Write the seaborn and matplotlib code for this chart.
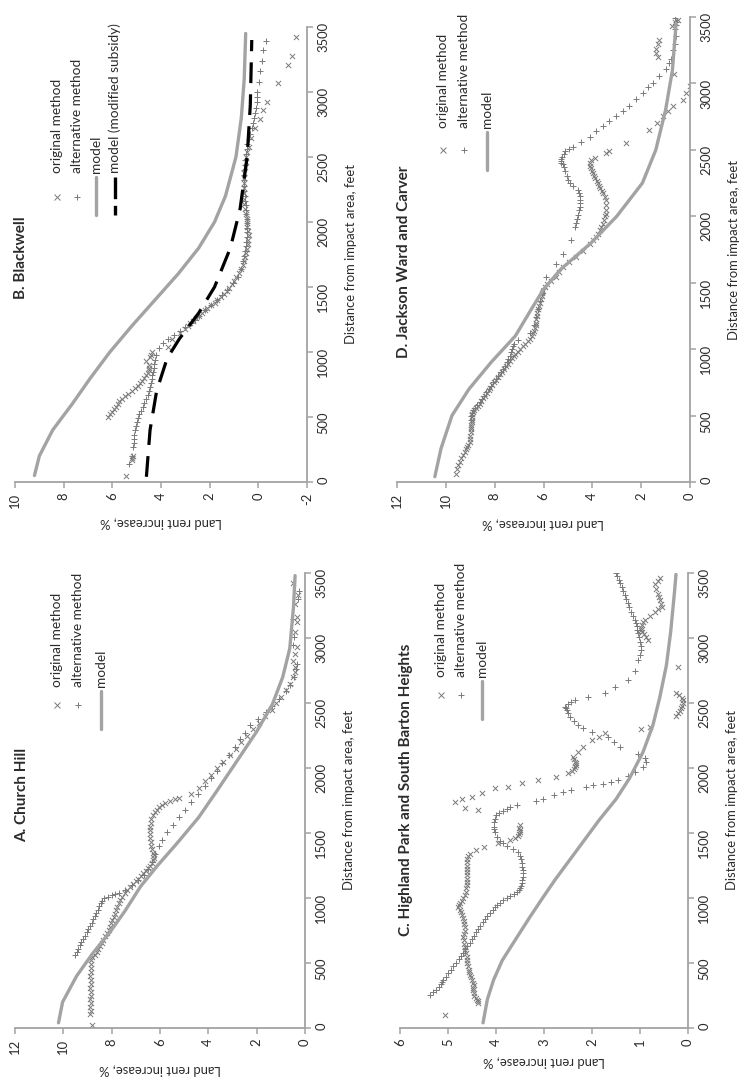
import numpy as np
import matplotlib
matplotlib.use("Agg")
import matplotlib.pyplot as plt
import seaborn as sns

# the figure is a landscape page turned a quarter turn: distance runs up, rent runs right-to-left
sns.set_style("white")
plt.rcParams['font.family'] = ['Lato', 'DejaVu Sans']
plt.rcParams['axes.unicode_minus'] = False

# every series is (distance in feet, land rent increase in %)

# ---------------- A. Church Hill ----------------
a_model = [(40, 10.2), (200, 10.03), (400, 9.45), (575, 8.78), (730, 8.1), (900, 7.45), (1090, 6.8), (1250, 6.1),
           (1420, 5.3), (1620, 4.4), (1820, 3.66), (2050, 2.83), (2280, 2.0), (2490, 1.35), (2700, 0.92),
           (2920, 0.63), (3230, 0.48), (3480, 0.41)]
a_orig = [(25, 8.83), (110, 8.9), (130, 8.87), (160, 8.88), (190, 8.87), (220, 8.88), (250, 8.87), (280, 8.87),
          (310, 8.88), (340, 8.87), (370, 8.87), (400, 8.88), (430, 8.87), (460, 8.87), (490, 8.86), (520, 8.85),
          (545, 8.8), (565, 8.7), (585, 8.62), (605, 8.56), (630, 8.48), (655, 8.42), (680, 8.35), (705, 8.28),
          (730, 8.2), (755, 8.13), (780, 8.07), (805, 8.02), (830, 7.97), (855, 7.92), (880, 7.86), (905, 7.81),
          (930, 7.76), (958, 7.71), (985, 7.66), (1010, 7.56), (1040, 7.45), (1062, 7.35), (1085, 7.24),
          (1108, 7.12), (1130, 7.0), (1150, 6.9), (1170, 6.8), (1190, 6.7), (1210, 6.6), (1230, 6.5), (1250, 6.41),
          (1270, 6.33), (1290, 6.27), (1310, 6.23), (1330, 6.24), (1350, 6.28), (1375, 6.32), (1400, 6.36),
          (1430, 6.39), (1460, 6.41), (1490, 6.42), (1520, 6.42), (1550, 6.41), (1580, 6.39), (1610, 6.36),
          (1635, 6.3), (1660, 6.22), (1680, 6.13), (1700, 6.03), (1715, 5.9), (1730, 5.78), (1745, 5.6),
          (1758, 5.4), (1770, 5.2), (1800, 4.7), (1850, 4.4), (1900, 4.15), (1950, 3.9), (2000, 3.65), (2050, 3.4),
          (2100, 3.1), (2150, 2.85), (2200, 2.65), (2250, 2.4), (2300, 2.15), (2350, 1.9), (2400, 1.65),
          (2450, 1.38), (2500, 1.18), (2550, 0.98), (2600, 0.8), (2650, 0.62), (2700, 0.48), (2740, 0.42),
          (2780, 0.4), (2820, 0.48), (2880, 0.42), (2930, 0.34), (3050, 0.41), (3120, 0.35), (3160, 0.34),
          (3260, 0.41), (3330, 0.3), (3420, 0.48)]
a_alt = [(560, 9.52), (585, 9.45), (610, 9.38), (635, 9.32), (660, 9.25), (685, 9.18), (710, 9.1), (735, 9.03),
         (760, 8.97), (785, 8.9), (810, 8.83), (835, 8.77), (860, 8.7), (885, 8.63), (910, 8.57), (935, 8.52),
         (960, 8.46), (980, 8.4), (1000, 8.3), (1010, 8.15), (1020, 8.0), (1030, 7.85), (1040, 7.7), (1065, 7.45),
         (1100, 7.15), (1140, 6.9), (1180, 6.68), (1220, 6.5), (1280, 6.34), (1340, 6.22), (1400, 6.05),
         (1450, 5.9), (1510, 5.72), (1560, 5.48), (1620, 5.2), (1680, 4.95), (1740, 4.7), (1800, 4.42),
         (1860, 4.15), (1920, 3.9), (1980, 3.66), (2040, 3.42), (2100, 3.15), (2160, 2.9), (2220, 2.7),
         (2270, 2.5), (2330, 2.28), (2380, 1.95), (2430, 1.62), (2480, 1.35), (2530, 1.08), (2590, 0.78),
         (2640, 0.62), (2700, 0.45), (2760, 0.36), (2800, 0.34), (2950, 0.48), (3010, 0.45), (3150, 0.5),
         (3300, 0.28), (3360, 0.25)]

# ---------------- B. Blackwell ----------------
b_model = [(50, 9.2), (200, 9.0), (400, 8.45), (600, 7.65), (800, 6.9), (1000, 6.1), (1200, 5.2), (1400, 4.25),
           (1600, 3.3), (1800, 2.45), (2000, 1.8), (2200, 1.35), (2500, 0.92), (2800, 0.7), (3100, 0.58),
           (3450, 0.52)]
b_subsidy = [(40, 4.6), (400, 4.45), (700, 4.18), (950, 3.75), (1100, 3.25), (1300, 2.45), (1500, 1.8),
             (1800, 1.15), (2100, 0.75), (2500, 0.46), (2900, 0.33), (3400, 0.27)]
b_orig = [(50, 5.45), (170, 5.2), (185, 5.18), (200, 5.15), (500, 6.18), (520, 6.1), (540, 6.0), (560, 5.92),
          (580, 5.85), (600, 5.78), (620, 5.72), (640, 5.62), (660, 5.5), (680, 5.35), (700, 5.2), (720, 5.07),
          (740, 4.95), (760, 4.87), (780, 4.8), (800, 4.7), (820, 4.6), (840, 4.55), (860, 4.5), (880, 4.48),
          (900, 4.48), (930, 4.6), (960, 4.45), (980, 4.4), (1000, 4.35), (1040, 3.7), (1100, 3.55), (1150, 3.2),
          (1180, 3.0), (1200, 2.9), (1220, 2.8), (1240, 2.68), (1260, 2.55), (1280, 2.42), (1300, 2.3),
          (1320, 2.2), (1340, 2.1), (1360, 1.95), (1380, 1.8), (1400, 1.68), (1420, 1.55), (1445, 1.42),
          (1470, 1.3), (1495, 1.2), (1520, 1.1), (1550, 1.0), (1580, 0.9), (1610, 0.8), (1640, 0.72), (1670, 0.65),
          (1700, 0.6), (1730, 0.55), (1760, 0.5), (1795, 0.47), (1830, 0.44), (1865, 0.42), (1900, 0.4),
          (1930, 0.42), (1960, 0.45), (1990, 0.46), (2020, 0.47), (2060, 0.5), (2100, 0.55), (2140, 0.57),
          (2180, 0.58), (2220, 0.6), (2260, 0.6), (2300, 0.59), (2340, 0.58), (2380, 0.57), (2420, 0.55),
          (2460, 0.52), (2500, 0.5), (2540, 0.45), (2580, 0.4), (2650, 0.3), (2720, 0.15), (2790, -0.05),
          (2860, -0.2), (2920, -0.35), (3070, -0.8), (3210, -1.2), (3280, -1.4), (3420, -1.55)]
b_alt = [(140, 5.3), (200, 5.2), (270, 5.15), (300, 5.13), (330, 5.12), (365, 5.1), (400, 5.08), (430, 5.04),
         (460, 5.0), (490, 4.95), (520, 4.9), (550, 4.82), (580, 4.75), (610, 4.68), (640, 4.6), (670, 4.55),
         (700, 4.5), (730, 4.46), (760, 4.42), (790, 4.38), (820, 4.35), (850, 4.32), (880, 4.3), (910, 4.27),
         (940, 4.25), (980, 4.2), (1030, 4.1), (1070, 3.9), (1100, 3.7), (1130, 3.45), (1160, 3.2), (1190, 3.0),
         (1220, 2.75), (1250, 2.6), (1280, 2.45), (1320, 2.2), (1360, 1.95), (1400, 1.7), (1440, 1.5),
         (1480, 1.3), (1530, 1.05), (1580, 0.85), (1640, 0.7), (1700, 0.62), (1740, 0.58), (1780, 0.55),
         (1815, 0.52), (1850, 0.5), (1885, 0.47), (1920, 0.45), (1955, 0.45), (1990, 0.45), (2025, 0.48),
         (2060, 0.5), (2095, 0.51), (2130, 0.52), (2165, 0.54), (2200, 0.55), (2240, 0.57), (2280, 0.58),
         (2320, 0.58), (2360, 0.58), (2400, 0.57), (2440, 0.56), (2480, 0.53), (2520, 0.5), (2560, 0.48),
         (2600, 0.45), (2640, 0.4), (2680, 0.35), (2720, 0.28), (2760, 0.22), (2800, 0.17), (2840, 0.12),
         (2880, 0.08), (2920, 0.05), (2960, 0.05), (3000, 0.04), (3080, -0.02), (3160, -0.08), (3240, -0.15),
         (3320, -0.2), (3390, -0.3)]

# ---------------- C. Highland Park and South Barton Heights ----------------
c_model = [(40, 4.27), (220, 4.18), (370, 4.05), (520, 3.87), (700, 3.56), (850, 3.3), (1000, 3.03), (1140, 2.77),
           (1300, 2.45), (1450, 2.15), (1600, 1.85), (1760, 1.5), (1920, 1.22), (2120, 0.94), (2330, 0.73),
           (2540, 0.59), (2790, 0.45), (3050, 0.36), (3360, 0.28), (3490, 0.25)]
c_orig = [(103, 5.06), (193, 4.37), (205, 4.38), (215, 4.4), (232, 4.42), (250, 4.45), (270, 4.46), (290, 4.47),
          (310, 4.47), (330, 4.46), (350, 4.48), (370, 4.5), (390, 4.53), (410, 4.55), (430, 4.56), (450, 4.57),
          (475, 4.59), (500, 4.6), (525, 4.61), (550, 4.61), (575, 4.63), (600, 4.64), (625, 4.65), (650, 4.66),
          (675, 4.67), (700, 4.68), (725, 4.66), (750, 4.65), (775, 4.65), (800, 4.66), (825, 4.67), (850, 4.68),
          (870, 4.7), (890, 4.72), (910, 4.76), (930, 4.8), (945, 4.78), (960, 4.75), (980, 4.71), (1000, 4.68),
          (1025, 4.65), (1050, 4.63), (1075, 4.62), (1100, 4.61), (1125, 4.6), (1150, 4.6), (1175, 4.6),
          (1200, 4.6), (1225, 4.6), (1250, 4.6), (1275, 4.6), (1300, 4.6), (1320, 4.58), (1340, 4.55),
          (1370, 4.42), (1395, 4.25), (1425, 3.95), (1450, 3.7), (1465, 3.6), (1480, 3.55), (1495, 3.52),
          (1510, 3.5), (1525, 3.51), (1540, 3.52), (1560, 3.5), (1677, 4.37), (1692, 4.65), (1737, 4.86),
          (1760, 4.7), (1779, 4.5), (1805, 4.3), (1846, 4.02), (1856, 3.74), (1882, 3.46), (1908, 3.12),
          (1933, 2.74), (1960, 2.5), (1975, 2.42), (1990, 2.38), (2005, 2.35), (2020, 2.33), (2035, 2.34),
          (2050, 2.35), (2068, 2.38), (2085, 2.4), (2120, 2.3), (2164, 2.18), (2215, 2.0), (2240, 1.85),
          (2267, 1.73), (2300, 0.97), (2318, 0.79), (2400, 0.25), (2420, 0.2), (2440, 0.17), (2460, 0.15),
          (2480, 0.12), (2500, 0.1), (2520, 0.1), (2540, 0.12), (2560, 0.18), (2580, 0.25), (2779, 0.2),
          (2985, 0.83), (3010, 0.88), (3030, 0.92), (3045, 0.95), (3062, 0.97), (3080, 0.97), (3100, 0.95),
          (3120, 0.93), (3138, 0.9), (3170, 0.8), (3200, 0.69), (3220, 0.62), (3238, 0.55), (3265, 0.56),
          (3290, 0.58), (3315, 0.6), (3338, 0.62), (3375, 0.66), (3415, 0.69), (3440, 0.63), (3464, 0.58)]
c_alt = [(257, 5.38), (276, 5.31), (296, 5.24), (318, 5.19), (340, 5.15), (357, 5.12), (373, 5.1), (396, 5.05),
         (420, 5.0), (448, 4.94), (476, 4.89), (503, 4.83), (530, 4.78), (555, 4.73), (579, 4.68), (605, 4.64),
         (630, 4.6), (656, 4.55), (682, 4.51), (708, 4.46), (735, 4.42), (760, 4.38), (785, 4.34), (812, 4.28),
         (840, 4.22), (864, 4.18), (888, 4.13), (910, 4.07), (930, 4.02), (948, 3.97), (965, 3.92), (983, 3.85),
         (1000, 3.78), (1015, 3.7), (1030, 3.62), (1045, 3.56), (1060, 3.52), (1077, 3.49), (1094, 3.47),
         (1117, 3.46), (1140, 3.45), (1165, 3.44), (1190, 3.44), (1215, 3.44), (1240, 3.45), (1270, 3.46),
         (1300, 3.48), (1325, 3.51), (1351, 3.54), (1377, 3.64), (1403, 3.78), (1420, 3.85), (1440, 3.92),
         (1470, 3.98), (1506, 4.02), (1530, 4.04), (1550, 4.05), (1583, 4.05), (1610, 4.03), (1635, 3.99),
         (1655, 3.93), (1673, 3.85), (1688, 3.78), (1699, 3.71), (1712, 3.57), (1750, 3.16), (1763, 3.02),
         (1790, 2.8), (1815, 2.6), (1830, 2.43), (1853, 2.12), (1866, 1.98), (1879, 1.77), (1892, 1.6),
         (1910, 1.45), (1940, 1.25), (1970, 1.1), (2008, 0.94), (2046, 0.87), (2075, 0.9), (2110, 1.05),
         (2164, 1.42), (2200, 1.55), (2241, 1.67), (2280, 2.0), (2310, 2.18), (2331, 2.29), (2360, 2.38),
         (2395, 2.46), (2420, 2.5), (2446, 2.53), (2460, 2.55), (2472, 2.56), (2490, 2.5), (2505, 2.43),
         (2523, 2.35), (2549, 2.08), (2575, 1.73), (2626, 1.52), (2677, 1.25), (2750, 1.1), (2831, 1.04),
         (2870, 1.0), (2908, 0.97), (2940, 0.98), (2970, 1.0), (3005, 1.02), (3038, 1.04), (3065, 1.06),
         (3090, 1.07), (3115, 1.08), (3138, 1.1), (3170, 1.14), (3200, 1.18), (3235, 1.22), (3269, 1.25),
         (3300, 1.29), (3330, 1.32), (3365, 1.35), (3395, 1.38), (3420, 1.41), (3450, 1.44), (3475, 1.47),
         (3497, 1.49)]

# ---------------- D. Jackson Ward and Carver ----------------
d_model = [(40, 10.45), (250, 10.2), (500, 9.75), (700, 9.05), (900, 8.15), (1100, 7.15), (1300, 6.5), (1450, 6.0),
           (1600, 5.3), (1800, 4.05), (2000, 3.0), (2250, 1.95), (2500, 1.4), (2800, 1.0), (3100, 0.72),
           (3450, 0.57)]
d_orig = [(63, 9.57), (95, 9.53), (126, 9.5), (150, 9.44), (177, 9.37), (200, 9.3), (227, 9.23), (245, 9.18),
          (260, 9.15), (280, 9.08), (303, 9.03), (325, 9.01), (350, 9.0), (375, 8.98), (400, 8.97), (415, 8.96),
          (430, 8.95), (450, 8.94), (470, 8.93), (490, 8.93), (510, 8.92), (525, 8.9), (540, 8.85), (555, 8.78),
          (570, 8.7), (590, 8.62), (610, 8.55), (630, 8.48), (650, 8.4), (670, 8.33), (690, 8.25), (710, 8.18),
          (730, 8.1), (750, 8.03), (770, 7.95), (790, 7.87), (810, 7.78), (830, 7.69), (850, 7.6), (870, 7.52),
          (890, 7.45), (910, 7.38), (930, 7.3), (945, 7.22), (960, 7.15), (980, 7.05), (1000, 6.95), (1020, 6.85),
          (1040, 6.75), (1060, 6.65), (1080, 6.55), (1100, 6.48), (1120, 6.42), (1140, 6.37), (1160, 6.33),
          (1180, 6.31), (1200, 6.3), (1225, 6.29), (1250, 6.27), (1275, 6.25), (1300, 6.22), (1325, 6.19),
          (1350, 6.15), (1375, 6.12), (1400, 6.08), (1420, 6.05), (1440, 6.02), (1465, 5.95), (1490, 5.85),
          (1515, 5.68), (1540, 5.5), (1580, 5.35), (1616, 5.21), (1655, 4.95), (1692, 4.66), (1740, 4.38),
          (1793, 4.11), (1818, 3.98), (1843, 3.84), (1870, 3.77), (1900, 3.7), (1920, 3.64), (1944, 3.57),
          (1970, 3.52), (2000, 3.48), (2020, 3.45), (2045, 3.43), (2085, 3.42), (2121, 3.43), (2145, 3.49),
          (2172, 3.57), (2190, 3.62), (2210, 3.67), (2230, 3.72), (2247, 3.77), (2265, 3.82), (2285, 3.88),
          (2305, 3.93), (2323, 3.98), (2340, 4.02), (2360, 4.05), (2380, 4.08), (2399, 4.11), (2420, 4.05),
          (2440, 3.9), (2475, 3.43), (2490, 3.3), (2550, 2.61), (2651, 1.66), (2700, 1.35), (2752, 1.11),
          (2790, 0.9), (2828, 0.7), (2879, 0.29), (2930, 0.15), (2980, 0.02), (3068, 0.64), (3200, 1.3),
          (3230, 1.4), (3260, 1.38), (3300, 1.32), (3330, 1.25), (3430, 0.72), (3459, 0.6), (3480, 0.5)]
d_alt = [(470, 8.97), (495, 8.95), (520, 8.93), (540, 8.87), (560, 8.8), (580, 8.71), (600, 8.62), (625, 8.53),
         (650, 8.45), (675, 8.35), (700, 8.25), (725, 8.15), (750, 8.05), (775, 7.95), (800, 7.85), (825, 7.75),
         (850, 7.65), (875, 7.57), (900, 7.5), (925, 7.44), (950, 7.38), (975, 7.34), (1000, 7.3), (1020, 7.25),
         (1040, 7.2), (1068, 7.04), (1120, 6.55), (1180, 6.4), (1240, 6.3), (1300, 6.22), (1360, 6.15),
         (1420, 6.05), (1460, 6.0), (1540, 5.89), (1641, 5.5), (1717, 5.2), (1818, 4.87), (1919, 4.73),
         (1950, 4.67), (1980, 4.62), (2010, 4.58), (2045, 4.55), (2070, 4.52), (2100, 4.5), (2125, 4.5),
         (2150, 4.5), (2175, 4.54), (2200, 4.6), (2225, 4.78), (2247, 4.93), (2275, 5.0), (2300, 5.05),
         (2340, 5.1), (2374, 5.14), (2390, 5.2), (2400, 5.27), (2415, 5.28), (2430, 5.28), (2450, 5.25),
         (2470, 5.18), (2490, 5.1), (2510, 4.95), (2525, 4.8), (2560, 4.45), (2600, 4.11), (2640, 3.85),
         (2677, 3.57), (2715, 3.3), (2752, 3.02), (2790, 2.75), (2828, 2.48), (2880, 2.2), (2929, 1.93),
         (2970, 1.7), (3005, 1.52), (3056, 1.25), (3106, 0.98), (3150, 0.85), (3182, 0.77), (3250, 0.7),
         (3300, 0.62), (3358, 0.57), (3410, 0.6), (3440, 0.58), (3459, 0.57), (3490, 0.6)]

W, H = 751, 1088
PT = '#7a7a7a'
LINE = '#a3a3a3'
TXT = '#2b2b2b'
FS = 9.4


def fx(px):
    return px / W


def fy(py):
    return 1 - py / H


def split(series):
    dist, rent = zip(*series)
    return list(dist), list(rent)


def panel(fig, box, title, title_xy, orig, alt, model, rent_ticks, legend_x, legend_y, sub=None):
    left, top, right, bottom = box
    ax = fig.add_axes([fx(left), fy(bottom), (right - left) / W, (bottom - top) / H])
    d, r = split(orig)
    sns.scatterplot(x=r, y=d, marker='x', s=14, color=PT, linewidth=0.7, ax=ax)
    d, r = split(alt)
    sns.scatterplot(x=r, y=d, marker='+', s=18, color=PT, linewidth=0.7, ax=ax)
    d, r = split(model)
    sns.lineplot(x=r, y=d, sort=False, estimator=None, color=LINE, lw=2.4, ax=ax)
    if sub is not None:
        d, r = split(sub)
        sns.lineplot(x=r, y=d, sort=False, estimator=None, color='black', lw=2.3,
                     ax=ax).lines[-1].set_dashes((6.5, 3.5))

    # rent grows to the left
    ax.set_xlim(rent_ticks[0], rent_ticks[-1])
    ax.set_ylim(0, 3500)
    ax.set_xticks(rent_ticks)
    ax.set_xticklabels([f"{t:g}" for t in rent_ticks])
    ax.set_yticks(range(0, 3501, 500))
    ax.yaxis.tick_right()
    ax.yaxis.set_label_position('right')
    for s in ['top', 'left']:
        ax.spines[s].set_visible(False)
    for s in ['bottom', 'right']:
        ax.spines[s].set_color(LINE)
        ax.spines[s].set_linewidth(1.3)
    ax.tick_params(axis='both', direction='out', length=4, width=1.1, color=LINE,
                   labelsize=FS, labelcolor=TXT, labelrotation=90)
    ax.tick_params(axis='x', bottom=True)
    ax.tick_params(axis='y', right=True, left=False)
    ax.set_xlabel("Land rent increase, %", rotation=180, fontsize=FS, color=TXT, labelpad=7)
    ax.set_ylabel("Distance from impact area, feet", rotation=90, fontsize=FS, color=TXT, labelpad=11)

    fig.text(fx(title_xy[0]), fy(title_xy[1]), title, rotation=90, ha='center', va='center',
             fontsize=11, fontweight='bold', color=TXT)

    # legend, drawn by hand because the text runs vertically
    entries = [('x', 'original method'), ('+', 'alternative method'), ('line', 'model')]
    if sub is not None:
        entries.append(('dash', 'model (modified subsidy)'))
    mk_y, txt_y = legend_y
    for i, (kind, label) in enumerate(entries):
        x = legend_x[i]
        if kind in ('x', '+'):
            fig.add_artist(plt.Line2D([fx(x)], [fy(mk_y)], marker=kind, ms=4, mew=0.7,
                                      color=PT, linestyle='none', transform=fig.transFigure))
        else:
            col = LINE if kind == 'line' else 'black'
            ln = plt.Line2D([fx(x), fx(x)], [fy(txt_y + 4), fy(txt_y + 42)], color=col, lw=2.4,
                            transform=fig.transFigure)
            if kind == 'dash':
                ln.set_dashes((6.5, 2.0))
            fig.add_artist(ln)
        fig.text(fx(x), fy(txt_y), label, rotation=90, ha='center', va='bottom',
                 fontsize=9.8, color=TXT)
    return ax


fig = plt.figure(figsize=(W / 100, H / 100), dpi=100)

panel(fig, (15, 27, 307, 482), "B. Blackwell", (21, 258), b_orig, b_alt, b_model,
      [10, 8, 6, 4, 2, 0, -2], [57, 77, 96, 115], (197, 173), sub=b_subsidy)

panel(fig, (397, 17, 690, 482), "D. Jackson Ward and Carver", (404, 262), d_orig, d_alt, d_model,
      [12, 10, 8, 6, 4, 2, 0], [443, 464, 487], (150, 128))

panel(fig, (15, 573, 305, 1028), "A. Church Hill", (22, 795), a_orig, a_alt, a_model,
      [12, 10, 8, 6, 4, 2, 0], [57, 78, 101], (705, 687))

panel(fig, (400, 573, 688, 1028), "C. Highland Park and South Barton Heights", (406, 790),
      c_orig, c_alt, c_model, [6, 5, 4, 3, 2, 1, 0], [441, 461, 482], (695, 677))

fig.savefig("out.png", dpi=100)
